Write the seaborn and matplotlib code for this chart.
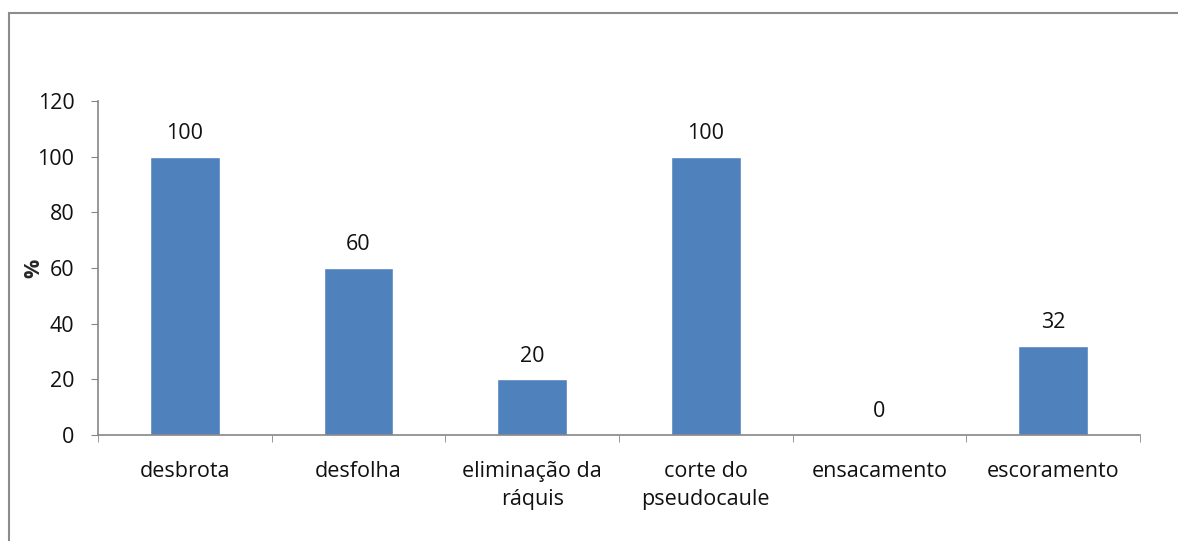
import numpy as np
import pandas as pd
import matplotlib
matplotlib.use("Agg")
import matplotlib.pyplot as plt
import seaborn as sns
from matplotlib.patches import Rectangle

# Data
categories = ["desbrota", "desfolha", "eliminação da\nráquis", "corte do\npseudocaule",
              "ensacamento", "escoramento"]
values = [100, 60, 20, 100, 0, 32]
y_ticks = [0, 20, 40, 60, 80, 100, 120]

df = pd.DataFrame({"cat": categories, "val": values})

sns.set_style("white")
plt.rcParams["font.family"] = ["Open Sans", "DejaVu Sans"]
fs = 15.5

fig = plt.figure(figsize=(11.78, 5.41), dpi=100)
ax = fig.add_axes([98 / 1178, 106 / 541, 1042 / 1178, 334 / 541])

sns.barplot(data=df, x="cat", y="val", color="#4f81bd", width=0.4, saturation=1, ax=ax)

# value labels
for i, v in enumerate(values):
    ax.text(i, v + 4.5, str(v), ha="center", va="bottom", fontsize=fs, color="#111111")

axis_col = "#868686"
ax.set_ylim(0, 120)
ax.set_xlim(-0.5, len(categories) - 0.5)
ax.set_yticks(y_ticks)
ax.set_xticks(np.arange(len(categories) + 1) - 0.5, minor=True)
ax.set_xticks(np.arange(len(categories)))
ax.set_xticklabels(categories, fontsize=fs, linespacing=1.4, color="#111111")
ax.tick_params(axis="y", labelsize=fs, length=5, color=axis_col, left=True, direction="out",
               pad=12, labelcolor="#111111")
ax.tick_params(axis="x", which="major", length=0, pad=19)
ax.tick_params(axis="x", which="minor", length=5, color=axis_col, bottom=True, direction="out")
ax.set_xlabel("")
ax.set_ylabel("%", fontsize=fs, fontweight="bold", labelpad=-5)

for side in ["top", "right"]:
    ax.spines[side].set_visible(False)
for side in ["left", "bottom"]:
    ax.spines[side].set_color(axis_col)
    ax.spines[side].set_linewidth(1.2)

# outer chart border (only left and top visible)
fig.patches.append(Rectangle((9 / 1178, -0.2), 1.2, 1.2 - 13 / 541,
                             transform=fig.transFigure, fill=False,
                             edgecolor="#8c8c8c", linewidth=1.5))

fig.savefig("out.png", dpi=100)
